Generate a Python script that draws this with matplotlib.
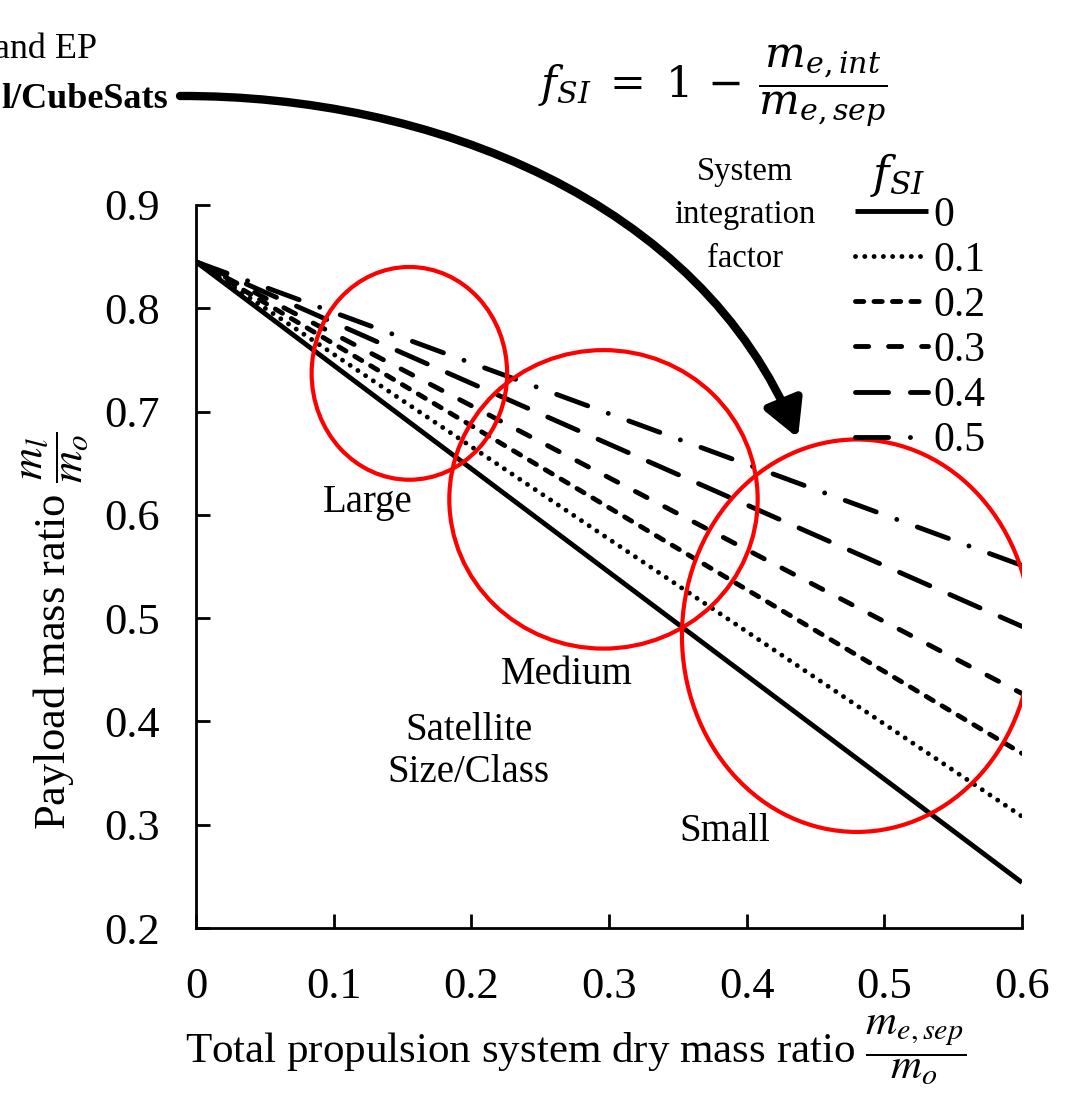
import matplotlib
matplotlib.use("Agg")

import matplotlib.pyplot as plt
from matplotlib.patches import Ellipse, FancyArrowPatch
from matplotlib.path import Path

plt.rcParams["font.family"] = ["Liberation Serif", "DejaVu Serif"]
plt.rcParams["mathtext.fontset"] = "stix"

# --- data ---
dry_mass_ratio = [0.0, 0.6]
fsi_labels = ["0", "0.1", "0.2", "0.3", "0.4", "0.5"]
payload_start = [0.845, 0.845, 0.845, 0.845, 0.845, 0.845]
payload_end = [0.244, 0.308, 0.369, 0.427, 0.492, 0.551]

size_classes = ["Large", "Medium", "Small"]
class_center_x = [0.155, 0.296, 0.480]
class_center_y = [0.737, 0.615, 0.483]
class_width = [0.142, 0.224, 0.254]
class_height = [0.206, 0.289, 0.380]
class_label_x = [0.125, 0.269, 0.384]
class_label_y = [0.612, 0.445, 0.293]

# dash patterns, in units of line width
styles = [
    "-",
    (0, (0.01, 1.9)),
    (0, (1.7, 2.1)),
    (0, (2.7, 4.1)),
    (0, (6.8, 4.5)),
    (0, (6.8, 4.5, 0.01, 4.5)),
]

W, H = 1065, 1095
fig = plt.figure(figsize=(W / 100, H / 100), dpi=100)
ax = fig.add_axes([196 / W, 1 - 928 / H, 826 / W, 723 / H])

handles = []
for lab, y0, y1, ls in zip(fsi_labels, payload_start, payload_end, styles):
    ln, = ax.plot(dry_mass_ratio, [y0, y1], color="black", lw=3.5,
                  linestyle=ls, dash_capstyle="round", solid_capstyle="butt",
                  label=lab, zorder=3)
    handles.append(ln)

for cx, cy, w, h in zip(class_center_x, class_center_y, class_width, class_height):
    ax.add_patch(Ellipse((cx, cy), w, h, fill=False, edgecolor="red",
                         lw=3, zorder=4))

for name, lx, ly in zip(size_classes, class_label_x, class_label_y):
    ax.text(lx, ly, name, fontsize=28, ha="center", va="center")
ax.text(0.198, 0.371, "Satellite\nSize/Class", fontsize=28, ha="center",
        va="center", linespacing=1.2)

ax.set_xlim(0, 0.6)
ax.set_ylim(0.2, 0.9)
ax.set_xticks([0, 0.1, 0.2, 0.3, 0.4, 0.5, 0.6])
ax.set_xticklabels(["0", "0.1", "0.2", "0.3", "0.4", "0.5", "0.6"])
ax.set_yticks([0.2, 0.3, 0.4, 0.5, 0.6, 0.7, 0.8, 0.9])
ax.set_yticklabels(["0.2", "0.3", "0.4", "0.5", "0.6", "0.7", "0.8", "0.9"])
ax.tick_params(direction="in", length=10, width=2, labelsize=32)
ax.tick_params(axis="x", pad=28)
ax.tick_params(axis="y", pad=26)
for side in ["top", "right"]:
    ax.spines[side].set_visible(False)
for side in ["left", "bottom"]:
    ax.spines[side].set_linewidth(2)

ax.set_xlabel(r"Total propulsion system dry mass ratio $\dfrac{m_{e,sep}}{m_o}$",
              fontsize=31)
ax.xaxis.set_label_coords(0.4600, -0.119)
ax.set_ylabel(r"Payload mass ratio $\dfrac{m_l}{m_o}$", fontsize=32)
ax.yaxis.set_label_coords(-0.128, 0.412)

leg = ax.legend(handles=handles, loc="upper left",
                bbox_to_anchor=(855 / W, 1 - 196 / H),
                bbox_transform=fig.transFigure, frameon=False, fontsize=30,
                handlelength=1.75, handletextpad=0.12, labelspacing=0.16,
                borderpad=0, borderaxespad=0)

fig.text(898 / W, 1 - 175 / H, r"$f_{SI}$", fontsize=32, ha="center",
         va="center", math_fontfamily="dejavuserif")
fig.text(745 / W, 1 - 215 / H, "System\nintegration\nfactor", fontsize=23.5,
         ha="center", va="center", linespacing=1.55)

fig.text(713 / W, 1 - 86 / H,
         r"$f_{SI}\;=\;1\,-\,\dfrac{m_{e,int}}{m_{e,sep}}$",
         fontsize=31, ha="center", va="center", math_fontfamily="dejavuserif")

fig.text(97 / W, 1 - 50 / H, "and EP", fontsize=26, ha="right", va="center")
fig.text(168 / W, 1 - 100 / H, "l/CubeSats", fontsize=26, ha="right",
         va="center", fontweight="bold")

# curved pointer arrow, in figure pixels (top-left origin)
arrow_px = [(180, 96), (430, 95), (700, 200), (798, 438)]
arrow_path = Path([(x / W, 1 - y / H) for x, y in arrow_px],
                  [Path.MOVETO, Path.CURVE4, Path.CURVE4, Path.CURVE4])
arrow = FancyArrowPatch(path=arrow_path, transform=fig.transFigure,
                        arrowstyle="-|>,head_length=1.1,head_width=0.6",
                        mutation_scale=20, lw=6, color="black")
fig.patches.append(arrow)

fig.savefig("out.png", dpi=100)
